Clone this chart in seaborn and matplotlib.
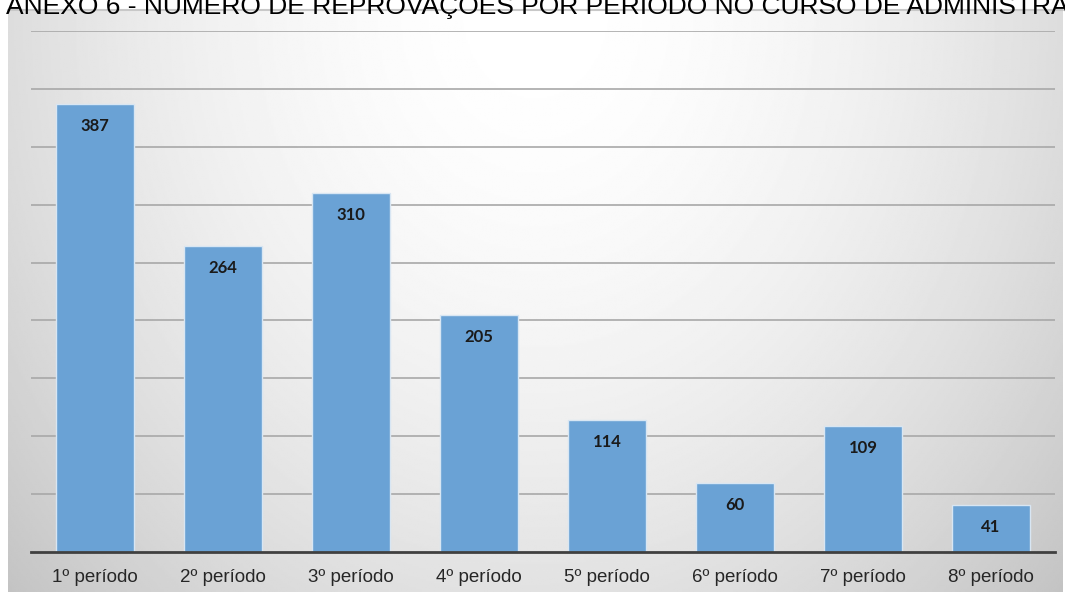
import matplotlib
matplotlib.use("Agg")
import matplotlib.pyplot as plt
import numpy as np
import pandas as pd
import seaborn as sns

periodos = ['1º período', '2º período', '3º período', '4º período',
            '5º período', '6º período', '7º período', '8º período']
reprovacoes = [387, 264, 310, 205, 114, 60, 109, 41]
titulo = 'ANEXO 6 - NÚMERO DE REPROVAÇÕES POR PERÍODO NO CURSO DE ADMINISTRAÇÃO'

W, H = 1065, 592
df = pd.DataFrame({'periodo': periodos, 'reprovacoes': reprovacoes})

sns.set_theme(style='white')
plt.rcParams['font.family'] = ['Liberation Sans', 'DejaVu Sans']

fig = plt.figure(figsize=(W / 100, H / 100), dpi=100)
fig.patch.set_facecolor('white')

# gradient background of the chart frame
bg = fig.add_axes([8 / W, 0, (1063 - 8) / W, (592 - 10) / H])
yy, xx = np.mgrid[0:1:300j, -1:1:600j]
r = np.sqrt((xx / 1.1) ** 2 + (yy / 1.2) ** 2)
shade = 1.0 - 0.16 * np.clip(r, 0, 1.3) ** 1.8
bg.imshow(shade, cmap='gray', vmin=0, vmax=1, aspect='auto', origin='upper',
          extent=[0, 1, 0, 1])
bg.set_xlim(0, 1)
bg.set_ylim(0, 1)
bg.axis('off')
bg.plot([0, 1], [1, 1], color='#c8c8c8', lw=1.5, clip_on=False)

ax = fig.add_axes([31 / W, 40 / H, (1055 - 31) / W, (552 - 31) / H])
ax.set_facecolor('none')
sns.barplot(data=df, x='periodo', y='reprovacoes', color='#6aa2d5',
            saturation=1, width=0.61, edgecolor='#d8e6f3', linewidth=1, ax=ax)
ax.set_ylim(0, 450)
ax.set_yticks(np.arange(50, 451, 50))
ax.set_axisbelow(True)
ax.yaxis.grid(True, color='#a8a8a8', lw=1.2)
ax.xaxis.grid(False)
for s in ['top', 'right', 'left']:
    ax.spines[s].set_visible(False)
ax.spines['bottom'].set_color('#404040')
ax.spines['bottom'].set_linewidth(2)
ax.set_xlim(-0.5, len(periodos) - 0.5)
ax.tick_params(axis='y', left=False, labelleft=False)
ax.tick_params(axis='x', length=0, pad=12, labelsize=13.5, labelcolor='#262626')
ax.set_xlabel('')
ax.set_ylabel('')

for i, v in enumerate(reprovacoes):
    ax.annotate(str(v), (i, v), xytext=(0, -22), textcoords='offset pixels',
                ha='center', va='center', fontsize=12, fontweight='bold',
                color='#1a1a1a', family=['Lato', 'DejaVu Sans'])

fig.text(6 / W, 1 - 14 / H, titulo, ha='left', va='baseline',
         fontsize=19, color='black')

fig.savefig('out.png', dpi=100)
